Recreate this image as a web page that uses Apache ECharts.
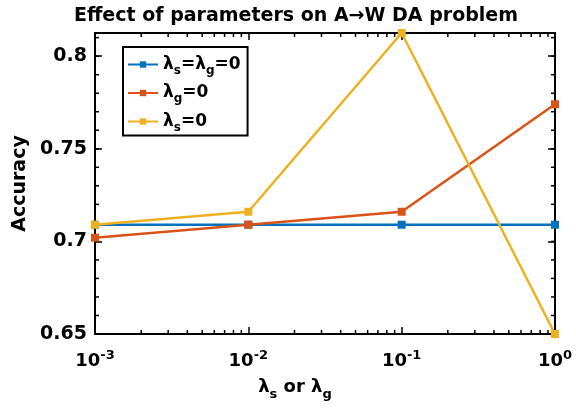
<!DOCTYPE html>
<html><head><meta charset="utf-8">
<script src="https://cdn.jsdelivr.net/npm/echarts@6/dist/echarts.min.js"></script>
<style>html,body{margin:0;padding:0;background:#fff}#c{width:576px;height:412px}</style>
</head><body><div id="c"></div>
<script>
var xValues = [0.001, 0.01, 0.1, 1];
var seriesNames = ['λs=λg=0', 'λg=0', 'λs=0'];
var blueVals = [0.709, 0.709, 0.709, 0.709];
var orangeVals = [0.702, 0.709, 0.716, 0.774];
var yellowVals = [0.709, 0.716, 0.8125, 0.65];
var xTickExps = ['-3', '-2', '-1', '0'];
var yTicks = [0.65, 0.7, 0.75, 0.8];
var colors = ['#0072BD', '#D95319', '#EDB120'];

var FONT = 'DejaVu Sans';
var xMinor = [];
for (var d = -3; d < 0; d++) for (var k = 2; k <= 9; k++) xMinor.push(k * Math.pow(10, d));
var yMinor = [];
for (var i = 65; i <= 81; i++) yMinor.push(i / 100);

function pairs(vals){ return xValues.map(function(x,i){return [x, vals[i]];}); }

var legendRich = {
  l: {fontFamily: FONT, fontWeight: 'bold', fontSize: 17, color: '#000'},
  s: {fontFamily: FONT, fontWeight: 'bold', fontSize: 12, color: '#000', padding: [12,0,0,0]}
};
var legendText = {
  'λs=λg=0': '{l|λ}{s|s}{l|=λ}{s|g}{l|=0}',
  'λg=0': '{l|λ}{s|g}{l|=0}',
  'λs=0': '{l|λ}{s|s}{l|=0}'
};

var chart = echarts.init(document.getElementById('c'));
function tickSeries(vals, isX){
  return {
    type: 'custom', coordinateSystem: 'cartesian2d', silent: true, clip: false,
    data: vals.map(function(v){ return isX ? [v, 0.7] : [0.01, v]; }),
    renderItem: function(params, api){
      var cs = params.coordSys;
      var L = 4;
      if (isX) {
        var p = api.coord([api.value(0), 0.7]);
        return {type: 'group', children: [
          {type: 'line', shape: {x1: p[0], y1: cs.y + cs.height, x2: p[0], y2: cs.y + cs.height - L}, style: {stroke: '#000', lineWidth: 1.5}},
          {type: 'line', shape: {x1: p[0], y1: cs.y, x2: p[0], y2: cs.y + L}, style: {stroke: '#000', lineWidth: 1.5}}
        ]};
      } else {
        var q = api.coord([0.01, api.value(1)]);
        return {type: 'group', children: [
          {type: 'line', shape: {x1: cs.x, y1: q[1], x2: cs.x + L, y2: q[1]}, style: {stroke: '#000', lineWidth: 1.5}},
          {type: 'line', shape: {x1: cs.x + cs.width, y1: q[1], x2: cs.x + cs.width - L, y2: q[1]}, style: {stroke: '#000', lineWidth: 1.5}}
        ]};
      }
    },
    z: 1
  };
}
function lineSeries(name, vals, color){
  return {
    name: name, type: 'line', data: pairs(vals),
    symbol: 'rect', symbolSize: 8, showSymbol: true,
    lineStyle: {color: color, width: 2.5}, itemStyle: {color: color},
    z: 3, animation: false
  };
}
var option = {
  animation: false,
  title: {
    text: 'Effect of parameters on A→W DA problem',
    left: 69, top: 2,
    textStyle: {fontFamily: FONT, fontWeight: 'bold', fontSize: 19, color: '#000'}
  },
  grid: {left: 95, right: 21, top: 33, bottom: 78, show: false},
  legend: {
    left: 123, top: 47, orient: 'vertical',
    backgroundColor: '#fff', borderColor: '#000', borderWidth: 2,
    padding: [9, 7, 2, 4], itemGap: 8, itemWidth: 30, itemHeight: 8,
    data: seriesNames,
    formatter: function(n){ return legendText[n]; },
    textStyle: {rich: legendRich, fontFamily: FONT, fontWeight: 'bold', fontSize: 17}
  },
  xAxis: [{
    type: 'log', logBase: 10, min: 0.001, max: 1, position: 'bottom',
    name: '{l|λ}{s|s}{l| or λ}{s|g}', nameLocation: 'middle', nameGap: 40,
    nameTextStyle: {padding: [0, 60, 0, 0], rich: {
      l: {fontFamily: FONT, fontWeight: 'bold', fontSize: 18, color: '#000'},
      s: {fontFamily: FONT, fontWeight: 'bold', fontSize: 13, color: '#000', padding: [14,0,0,0]}
    }},
    axisLine: {onZero: false, lineStyle: {color: '#000', width: 2}},
    axisTick: {inside: true, length: 7, lineStyle: {color: '#000', width: 1.5}},
    splitLine: {show: false},
    axisLabel: {
      margin: 15,
      formatter: function(v){ var e = Math.round(Math.log10(v)); return '{b|10}{p|' + e + '}'; },
      rich: {
        b: {fontFamily: FONT, fontWeight: 'bold', fontSize: 18, color: '#000'},
        p: {fontFamily: FONT, fontWeight: 'bold', fontSize: 13, color: '#000', padding: [0,0,12,0]}
      }
    }
  }, {
    type: 'log', logBase: 10, min: 0.001, max: 1, position: 'top',
    axisLine: {onZero: false, lineStyle: {color: '#000', width: 2}},
    axisTick: {inside: true, length: 7, lineStyle: {color: '#000', width: 1.5}},
    axisLabel: {show: false}, splitLine: {show: false}
  }],
  yAxis: [{
    type: 'value', min: 0.65, max: 0.8125, interval: 0.05, position: 'left',
    name: 'Accuracy', nameLocation: 'middle', nameGap: 62, nameRotate: 90,
    nameTextStyle: {fontFamily: FONT, fontWeight: 'bold', fontSize: 19, color: '#000'},
    axisLine: {show: true, onZero: false, lineStyle: {color: '#000', width: 2}},
    axisTick: {show: true, inside: true, length: 7, lineStyle: {color: '#000', width: 1.5}},
    splitLine: {show: false},
    axisLabel: {
      margin: 8, showMaxLabel: false,
      formatter: function(v){ return String(+v.toFixed(2)); },
      fontFamily: FONT, fontWeight: 'bold', fontSize: 19, color: '#000'
    }
  }, {
    type: 'value', min: 0.65, max: 0.8125, interval: 0.05, position: 'right',
    axisLine: {show: true, onZero: false, lineStyle: {color: '#000', width: 2}},
    axisTick: {show: true, inside: true, length: 7, lineStyle: {color: '#000', width: 1.5}},
    axisLabel: {show: false}, splitLine: {show: false}
  }],
  series: [
    lineSeries(seriesNames[0], blueVals, colors[0]),
    lineSeries(seriesNames[1], orangeVals, colors[1]),
    lineSeries(seriesNames[2], yellowVals, colors[2]),
    tickSeries(xMinor, true),
    tickSeries(yMinor, false)
  ]
};
chart.setOption(option);
</script></body></html>
